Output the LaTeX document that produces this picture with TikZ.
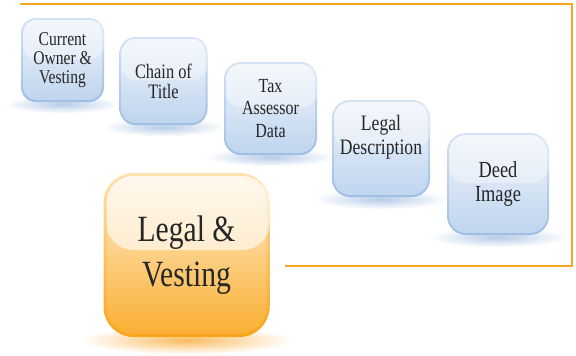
\documentclass[tikz,border=0pt]{standalone}
\usepackage{fontspec}
\setmainfont{Liberation Serif}[FakeStretch=0.8]
\usetikzlibrary{backgrounds,fadings}

\definecolor{frameorange}{HTML}{F6A623}
\definecolor{blueedgetop}{HTML}{D3E2F4}
\definecolor{blueedgebot}{HTML}{9EBDE4}
\definecolor{bluetop}{HTML}{F0F5FB}
\definecolor{bluemid}{HTML}{DAE6F5}
\definecolor{bluebot}{HTML}{BED4EE}
\definecolor{blueglow}{HTML}{9DBAE0}
\definecolor{orangeedgetop}{HTML}{FFE1AE}
\definecolor{orangeedgebot}{HTML}{F7A51A}
\definecolor{orangetop}{HTML}{FFF0D6}
\definecolor{orangemid}{HTML}{FDD08A}
\definecolor{orangebot}{HTML}{FAAE30}
\definecolor{orangeglow}{HTML}{F9A52A}

\tikzfading[name=tileglow, inner color=transparent!25, outer color=transparent!100]

\begin{document}
\begin{tikzpicture}[x=1pt, y=-1pt,
  bluetile/.style={
    rounded corners=#1, align=center, inner sep=0pt, text=black!85,
    top color=blueedgetop, bottom color=blueedgebot,
    path picture={
      \shade[rounded corners=#1-2pt, top color=bluetop, middle color=bluemid, bottom color=bluebot]
        ([shift={(2pt,-2pt)}]path picture bounding box.north west) rectangle
        ([shift={(-2pt,2pt)}]path picture bounding box.south east);
      \fill[white, opacity=0.35, rounded corners=#1-2pt]
        ([shift={(2pt,-2pt)}]path picture bounding box.north west) rectangle
        ([yshift=1pt]path picture bounding box.east);
    }
  },
  orangetile/.style={
    rounded corners=#1, align=center, inner sep=0pt, text=black!85,
    top color=orangeedgetop, bottom color=orangeedgebot,
    path picture={
      \shade[rounded corners=#1-3pt, top color=orangetop, middle color=orangemid, bottom color=orangebot]
        ([shift={(3pt,-3pt)}]path picture bounding box.north west) rectangle
        ([shift={(-3pt,3pt)}]path picture bounding box.south east);
      \fill[white, opacity=0.6, rounded corners=#1-3pt]
        ([shift={(3pt,-3pt)}]path picture bounding box.north west) rectangle
        ([yshift=5pt]path picture bounding box.east);
    }
  }]
  \useasboundingbox (0, 0) rectangle (576, 356);

  \node[bluetile=15pt, minimum width=83pt, minimum height=84pt,
    font=\fontsize{19.5}{19}\selectfont] (owner) at (62.5, 60){
    Current\\Owner \&\\Vesting
  };

  \node[bluetile=16pt, minimum size=88pt,
    font=\fontsize{20.5}{20}\selectfont] (chain) at (163.5, 81){
    Chain of\\Title
  };

  \node[bluetile=17pt, minimum size=93pt,
    font=\fontsize{20}{22.5}\selectfont] (tax) at (270.5, 108.5){
    Tax\\Assessor\\Data
  };

  \node[bluetile=18pt, minimum width=98pt, minimum height=97pt, text depth=27pt,
    font=\fontsize{22}{24}\selectfont] (legal) at (381, 148.5){
    Legal\\Description
  };

  \node[bluetile=19pt, minimum size=102pt,
    font=\fontsize{23}{24}\selectfont] (deed) at (498, 184){
    Deed\\Image
  };

  \node[orangetile=30pt, minimum width=166pt, minimum height=164pt,
    font=\fontsize{37}{45}\selectfont] (vesting) at (186.5, 255){
    Legal \&\\Vesting
  };

  \begin{scope}[on background layer]
    \fill[blueglow, path fading=tileglow] ([yshift=-2pt]owner.south) ellipse [x radius=58pt, y radius=9pt];
    \fill[blueglow, path fading=tileglow] ([yshift=-2pt]chain.south) ellipse [x radius=61pt, y radius=9pt];
    \fill[blueglow, path fading=tileglow] ([yshift=-2pt]tax.south) ellipse [x radius=64pt, y radius=9pt];
    \fill[blueglow, path fading=tileglow] ([yshift=-2pt]legal.south) ellipse [x radius=67pt, y radius=10pt];
    \fill[blueglow, path fading=tileglow] ([yshift=-2pt]deed.south) ellipse [x radius=70pt, y radius=10pt];
    \fill[orangeglow, path fading=tileglow] ([yshift=-3pt]vesting.south) ellipse [x radius=106pt, y radius=14pt];
  \end{scope}

  \coordinate (topleft) at (20, 4);
  \coordinate (topright) at (572, 4);
  \coordinate (bottomright) at (572, 266);
  \coordinate (bottomleft) at (285, 266);
  \draw[frameorange, line width=1.4pt] (topleft) -- (topright) -- (bottomright) -- (bottomleft);
\end{tikzpicture}
\end{document}
